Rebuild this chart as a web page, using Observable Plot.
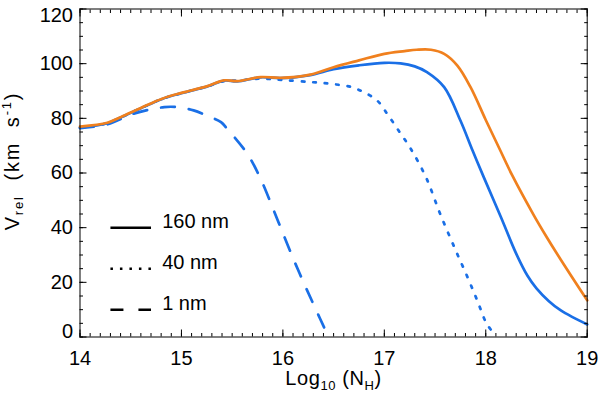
<!DOCTYPE html>
<html><head><meta charset="utf-8">
<script src="https://cdn.jsdelivr.net/npm/d3@7"></script>
<script src="https://cdn.jsdelivr.net/npm/@observablehq/plot@0.6"></script>
<style>body{margin:0;background:#fff}#chart svg{display:block}</style>
</head><body><div id="chart"></div>
<script>
// ---- data ----
const orangeX = [14.0, 14.27, 14.4, 14.6, 14.81, 15.0, 15.25, 15.42, 15.55, 15.78, 15.98, 16.27, 16.5, 16.75, 17.0, 17.2, 17.32, 17.46, 17.59, 17.72, 17.85, 18.0, 18.14, 18.26, 18.47, 18.6, 18.77, 19.0];
const orangeY = [77, 78.4, 80.4, 83.8, 87.2, 89.3, 91.7, 93.9, 93.6, 95.1, 94.8, 96.0, 98.7, 101.2, 103.6, 104.6, 105.1, 105.1, 103.6, 99.3, 91.4, 79.4, 68.5, 59.2, 44.8, 36.6, 26.5, 13.4];

const solidX = [14.0, 14.27, 14.4, 14.6, 14.81, 15.0, 15.25, 15.42, 15.55, 15.78, 15.98, 16.27, 16.5, 16.75, 17.0, 17.16, 17.3, 17.42, 17.59, 17.75, 17.87, 17.98, 18.15, 18.3, 18.41, 18.5, 18.62, 18.74, 18.87, 19.0];
const solidY = [76.6, 78.2, 80.3, 83.7, 87.1, 89.2, 91.6, 93.8, 93.5, 95.0, 94.7, 95.8, 98.0, 99.4, 100.3, 100.1, 99.0, 96.9, 91.4, 79.2, 68.2, 58.5, 43.8, 30.5, 22.5, 17.8, 13.2, 9.7, 7.0, 4.6];

const dottedX = [14.0, 14.27, 14.4, 14.6, 14.81, 15.0, 15.25, 15.42, 15.55, 15.78, 16.0, 16.3, 16.5, 16.67, 16.8, 16.93, 17.04, 17.15, 17.26, 17.41, 17.55, 17.7, 17.82, 17.92, 18.01, 18.1];
const dottedY = [76.6, 78.2, 80.3, 83.7, 87.1, 89.2, 91.6, 93.6, 93.8, 94.5, 94.0, 93.2, 92.5, 91.5, 89.5, 86.5, 81, 75, 68.9, 58.5, 45.1, 32, 21.9, 13, 4.8, 0.5];

const dashedX = [14.0, 14.27, 14.53, 14.83, 14.96, 15.12, 15.25, 15.39, 15.45, 15.65, 15.78, 15.91, 16.0, 16.11, 16.2, 16.3, 16.45];
const dashedY = [76.4, 77.8, 81.7, 84.1, 84.1, 82.9, 81, 78.6, 76.2, 67, 57.9, 46.3, 38, 28, 20.3, 12.1, 0];

const legendLabels = ["160 nm", "40 nm", "1 nm"];
const xTicks = [14, 15, 16, 17, 18, 19];
const yTicks = [0, 20, 40, 60, 80, 100, 120];
const xTitle = "Log10 (NH)";
const yTitle = "V rel (km s-1)";

// ---- styles ----
const ORANGE = "#f0801e", BLUE = "#1a6fe6";
const DOT = "2.5 9", DASH = "14 14";
const FONT = 20;

const toRows = (xs, ys) => xs.map((x, i) => ({x, y: ys[i]}));
const xMinor = d3.range(140, 191, 1).map(d => d / 10);
const yMinor = d3.range(0, 121, 5);
const yMid = yTicks.filter(d => d !== 0 && d !== 120);

const legendRows = legendLabels.map((label, i) => ({label, y: 40 - 15 * i}));
const legendDash = [null, "2.5 7", "13 15"];

const noText = () => "";
const marks = [
  Plot.line(toRows(dashedX, dashedY), {x: "x", y: "y", stroke: BLUE, strokeWidth: 2.7, strokeDasharray: DASH, curve: "catmull-rom"}),
  Plot.line(toRows(dottedX, dottedY), {x: "x", y: "y", stroke: BLUE, strokeWidth: 2.7, strokeDasharray: DOT, curve: "catmull-rom"}),
  Plot.line(toRows(solidX, solidY), {x: "x", y: "y", stroke: BLUE, strokeWidth: 2.7, curve: "catmull-rom"}),
  Plot.line(toRows(orangeX, orangeY), {x: "x", y: "y", stroke: ORANGE, strokeWidth: 2.7, curve: "catmull-rom"}),
  // axes: inward ticks on all four sides
  Plot.axisX(xMinor, {anchor: "bottom", tickSize: -3.5, tickFormat: noText, label: null}),
  Plot.axisX(xMinor, {anchor: "top", tickSize: -3.5, tickFormat: noText, label: null}),
  Plot.axisX(xTicks, {anchor: "bottom", tickSize: -7, tickFormat: noText, label: null}),
  Plot.axisX(xTicks, {anchor: "top", tickSize: -7, tickFormat: noText, label: null}),
  Plot.axisY(yMinor, {anchor: "left", tickSize: -3.5, tickFormat: noText, label: null}),
  Plot.axisY(yMinor, {anchor: "right", tickSize: -3.5, tickFormat: noText, label: null}),
  Plot.axisY(yTicks, {anchor: "left", tickSize: -7, tickFormat: noText, label: null}),
  Plot.axisY(yTicks, {anchor: "right", tickSize: -7, tickFormat: noText, label: null}),
  // tick labels
  Plot.axisX(xTicks, {anchor: "bottom", tickSize: 0, tickPadding: 13.5, fontSize: FONT, label: null}),
  Plot.axisY(yMid, {anchor: "left", tickSize: 0, tickPadding: 7, fontSize: FONT, label: null}),
  Plot.axisY([0], {anchor: "left", tickSize: 0, tickPadding: 7, fontSize: FONT, label: null, dy: -5.5}),
  Plot.axisY([120], {anchor: "left", tickSize: 0, tickPadding: 7, fontSize: FONT, label: null, dy: 6.5}),
  Plot.frame({stroke: "black", strokeWidth: 1}),
  // titles
  Plot.text([xTitle], {frameAnchor: "bottom", dy: 48, lineAnchor: "bottom", textAnchor: "middle", fontSize: FONT, text: d => d}),
  Plot.text([yTitle], {frameAnchor: "left", dx: -61.5, dy: -12, rotate: -90, lineAnchor: "bottom", textAnchor: "middle", fontSize: FONT, text: d => d}),
  // legend
  ...legendRows.map((r, i) => Plot.link([r], {x1: () => 14.3, x2: () => 14.7, y1: "y", y2: "y", stroke: "black", strokeWidth: 2.5, strokeDasharray: legendDash[i]})),
  Plot.text(legendRows, {x: () => 14.81, y: "y", text: "label", textAnchor: "start", lineAnchor: "bottom", fontSize: FONT, fill: "black"})
];

const svg = Plot.plot({
  width: 600, height: 393,
  marginLeft: 79.5, marginRight: 13.3, marginTop: 8.5, marginBottom: 56.5,
  style: {fontFamily: "'Liberation Sans', Arial, Helvetica, sans-serif", fontSize: FONT + "px", color: "black", background: "white"},
  x: {domain: [14, 19]},
  y: {domain: [0, 120]},
  marks
});

// rich text for subscripts / superscripts
function richify(plain, parts, spacing) {
  d3.select(svg).selectAll("text").filter(function() { return this.textContent === plain; }).each(function() {
    const t = d3.select(this);
    t.text("");
    if (spacing) t.attr("letter-spacing", spacing);
    let shift = 0;
    for (const [s, kind] of parts) {
      const target = kind === "sub" ? 4.5 : kind === "sup" ? -8 : 0;
      const ts = t.append("tspan").text(s).attr("dy", target - shift);
      if (kind) ts.attr("font-size", 13);
      shift = target;
    }
  });
}
richify(xTitle, [["Log"], ["10", "sub"], [" (N"], ["H", "sub"], [")"]], 0.6);
richify(yTitle, [["V"], ["rel", "sub"], ["  (km  s"], ["-1", "sup"], [")"]], 1.8);

document.getElementById("chart").appendChild(svg);
</script>
</body></html>
